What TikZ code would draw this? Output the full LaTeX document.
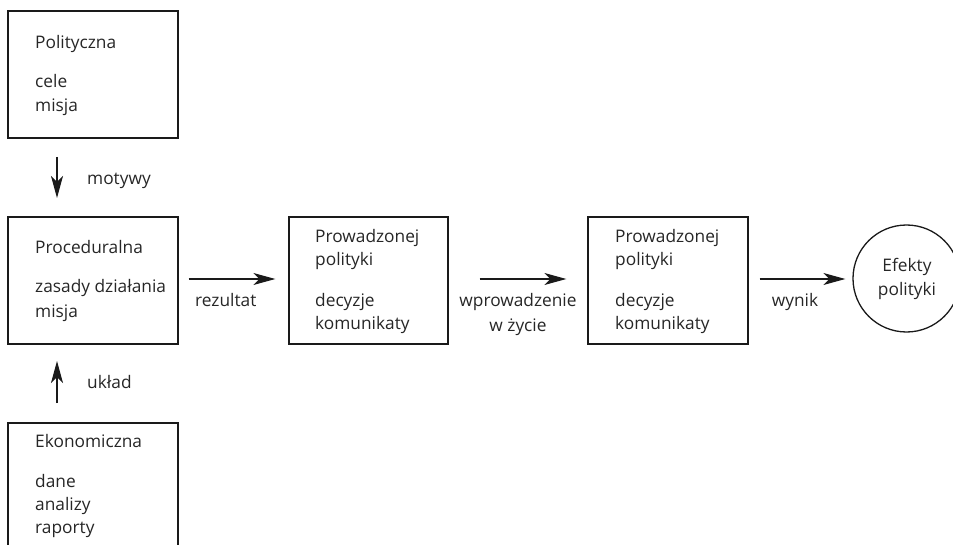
\documentclass[tikz,border=0pt]{standalone}
\usepackage{fontspec}
\setmainfont{Open Sans}
\usetikzlibrary{arrows.meta,calc}
\definecolor{txt}{HTML}{262626}
\definecolor{ln}{HTML}{1a1a1a}
\begin{document}
\begin{tikzpicture}[x=1pt,y=-1pt,
  box/.style={draw=ln,line width=1.3pt,rectangle,inner sep=0pt},
  lbl/.style={anchor=base west,inner sep=0pt,text=txt,font=\fontsize{17.3}{24}\selectfont},
  clbl/.style={anchor=base,inner sep=0pt,text=txt,font=\fontsize{17.3}{24}\selectfont},
  arr/.style={draw=ln,line width=1.3pt,-{Stealth[length=22pt,width=12pt,inset=6pt]}}]
\useasboundingbox (0,0) rectangle (953,545);
\clip (0,0) rectangle (953,545);
% boxes
\node[box,minimum width=170pt,minimum height=127pt] (pol) at (93,74.5) {};
\node[box,minimum width=170pt,minimum height=127pt] (proc) at (93,280.5) {};
\node[box,minimum width=170pt,minimum height=160pt] (eko) at (93,503) {};
\node[box,minimum width=159pt,minimum height=127pt] (pr1) at (368.5,280.5) {};
\node[box,minimum width=160pt,minimum height=127pt] (pr2) at (668,280.5) {};
\node[draw=ln,line width=1.3pt,circle,minimum size=107pt,inner sep=0pt] (ef) at (906.5,278.5) {};
% box texts
\node[lbl] (t1) at (35,49) {Polityczna};
\node[lbl] (t2) at (35,88) {cele};
\node[lbl] (t3) at (35,112) {misja};
\node[lbl] (t4) at (35,254) {Proceduralna};
\node[lbl] (t5) at (35,293) {zasady działania};
\node[lbl] (t6) at (35,317) {misja};
\node[lbl] (t7) at (35,447) {Ekonomiczna};
\node[lbl] (t8) at (35,487) {dane};
\node[lbl] (t9) at (35,510) {analizy};
\node[lbl] (t10) at (35,533) {raporty};
\node[lbl] (t11) at (315,243) {Prowadzonej};
\node[lbl] (t12) at (315,266) {polityki};
\node[lbl] (t13) at (315,306) {decyzje};
\node[lbl] (t14) at (315,330) {komunikaty};
\node[lbl] (t15) at (615,243) {Prowadzonej};
\node[lbl] (t16) at (615,266) {polityki};
\node[lbl] (t17) at (615,306) {decyzje};
\node[lbl] (t18) at (615,330) {komunikaty};
\node[clbl] (t19) at (907,272) {Efekty};
\node[clbl] (t20) at (907,296) {polityki};
% connectors
\coordinate (m1) at (57,157);
\coordinate (m2) at (57,198);
\coordinate (u1) at (57,403);
\coordinate (u2) at (57,361);
\draw[arr] (m1) -- (m2);
\draw[arr] (u1) -- (u2);
\draw[arr] ($(proc.east)+(10,-1.5)$) -- ($(pr1.west)+(-13,-1.5)$);
\draw[arr] ($(pr1.east)+(31,-1.5)$) -- ($(pr2.west)+(-21,-1.5)$);
\draw[arr] ($(pr2.east)+(11,-1.5)$) -- ($(ef.west)+(-7,0.5)$);
% connector labels
\node[lbl] (l1) at (87,185) {motywy};
\node[lbl] (l2) at (87,388) {układ};
\node[lbl] (l3) at (195,307) {rezultat};
\node[clbl] (l4) at (518,307) {wprowadzenie};
\node[clbl] (l5) at (518,331) {w życie};
\node[clbl] (l6) at (795,307) {wynik};
\end{tikzpicture}
\end{document}
